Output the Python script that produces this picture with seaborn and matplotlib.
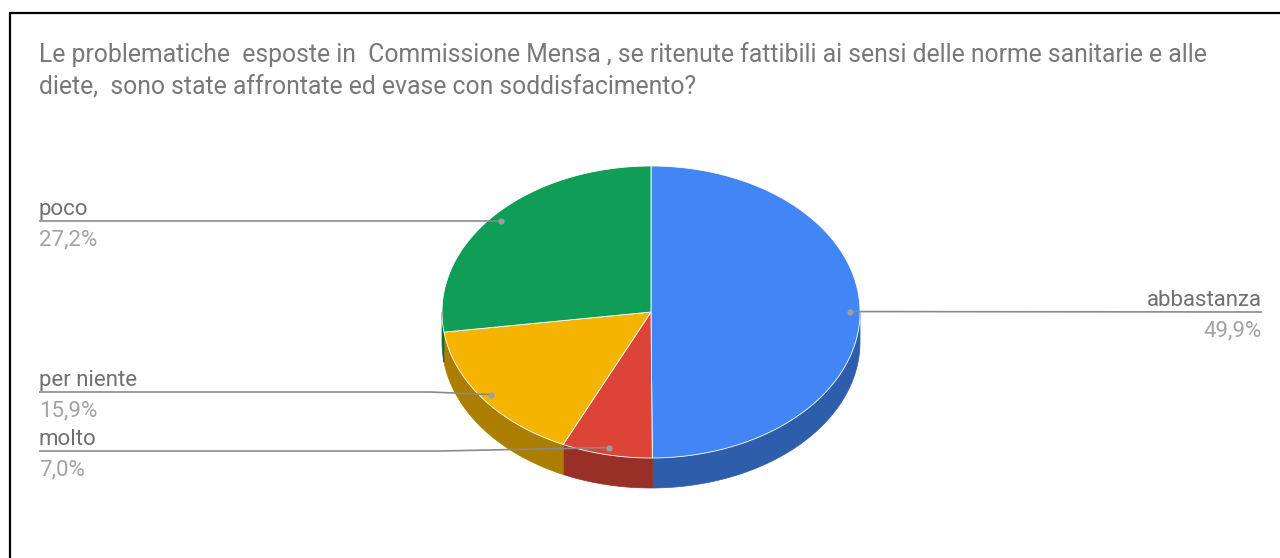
import numpy as np
import matplotlib
matplotlib.use("Agg")
import matplotlib.pyplot as plt
import matplotlib.colors as mcolors
from matplotlib.patches import Polygon
import seaborn as sns

# ---- data -------------------------------------------------------------
title_lines = [
    "Le problematiche  esposte in  Commissione Mensa , se ritenute fattibili ai sensi delle norme sanitarie e alle",
    "diete,  sono state affrontate ed evase con soddisfacimento?",
]
categories = ["abbastanza", "molto", "per niente", "poco"]
shares = [49.9, 7.0, 15.9, 27.2]
pct_labels = ["49,9%", "7,0%", "15,9%", "27,2%"]
colors = ["#4285F4", "#DB4437", "#F4B400", "#0F9D58"]

# ---- style ------------------------------------------------------------
sns.set_theme(style="white")
plt.rcParams["font.family"] = ["Roboto", "DejaVu Sans"]

W, H = 1280, 558
fig = plt.figure(figsize=(W / 100, H / 100), dpi=100)
ax = fig.add_axes([0, 0, 1, 1])
ax.set_xlim(0, W)
ax.set_ylim(H, 0)
ax.axis("off")

# frame (top and left edges)
ax.plot([10, 10, W], [H, 13, 13], color="black", lw=1.6, solid_capstyle="butt")

# title
ax.text(39, 55, title_lines[0], fontsize=17.8, color="#787878", va="center", ha="left")
ax.text(39, 87, title_lines[1], fontsize=17.8, color="#787878", va="center", ha="left")

# ---- 3D pie geometry -----------------------------------------------------
cx, cy, rx, ry, depth = 651, 312, 209, 146, 30


def arc(a0, a1, r=1.0, dz=0.0, n=None):
    if n is None:
        n = max(2, int(abs(a1 - a0) * 2))
    t = np.radians(np.linspace(a0, a1, n))
    return np.column_stack([cx + r * rx * np.sin(t), cy - r * ry * np.cos(t) + dz])


fractions = np.array(shares) / np.sum(shares)
edges = np.concatenate([[0.0], np.cumsum(fractions) * 360.0])

# side walls of the front half
for i, col in enumerate(colors):
    lo, hi = max(edges[i], 90.0), min(edges[i + 1], 270.0)
    if hi > lo:
        top = arc(lo, hi)
        bottom = arc(hi, lo, dz=depth)
        dark = np.array(mcolors.to_rgb(col)) * 0.7
        ax.add_patch(Polygon(np.vstack([top, bottom]), closed=True,
                             facecolor=dark, edgecolor=dark, lw=0.5))

# top face
for i, col in enumerate(colors):
    pts = np.vstack([[cx, cy], arc(edges[i], edges[i + 1])])
    ax.add_patch(Polygon(pts, closed=True, facecolor=col,
                         edgecolor="white", lw=0.6, joinstyle="round"))

# ---- labels with leader lines --------------------------------------------
line_col = "#8a8a8a"
name_col = "#707070"
pct_col = "#a3a3a3"

# (side, line y, knee x) for each category
label_layout = {
    "abbastanza": ("right", 312, None),
    "molto": ("left", 451, 440),
    "per niente": ("left", 392, 430),
    "poco": ("left", 221, None),
}

for i, name in enumerate(categories):
    mid = (edges[i] + edges[i + 1]) / 2
    ax_, ay_ = arc(mid, mid, r=0.95, n=1)[0]
    side, ly, knee = label_layout[name]
    if side == "left":
        xs = [39, knee if knee else ax_, ax_]
        ys = [ly, ly, ay_]
        tx, ha = 39, "left"
    else:
        xs = [ax_, 1262]
        ys = [ay_, ly]
        tx, ha = 1262, "right"
    ax.plot(xs, ys, color=line_col, lw=1.2, solid_capstyle="butt", zorder=3)
    ax.plot([ax_], [ay_], "o", color="#9e9e9e", ms=4.5, mec="none", zorder=4)
    ax.text(tx, ly - 6, name, fontsize=16, color=name_col, ha=ha, va="baseline")
    ax.text(tx, ly + 19, pct_labels[i], fontsize=16, color=pct_col, ha=ha, va="center")

fig.savefig("out.png", dpi=100, facecolor="white")
